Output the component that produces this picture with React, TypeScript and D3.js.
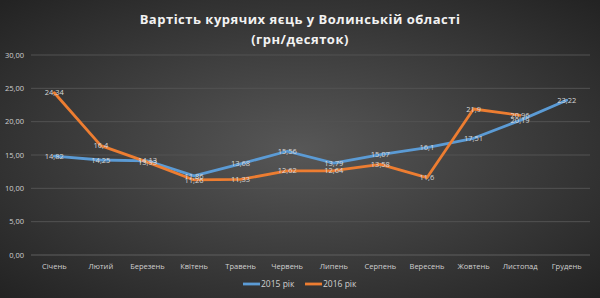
import React from "react";
import * as d3 from "d3";

const months = ["Січень","Лютий","Березень","Квітень","Травень","Червень","Липень","Серпень","Вересень","Жовтень","Листопад","Грудень"];
const values2015: (number | null)[] = [14.82,14.25,14.13,11.86,13.68,15.56,13.79,15.07,16.1,17.51,20.19,23.22];
const values2016: (number | null)[] = [24.34,16.4,13.93,11.26,11.33,12.62,12.64,13.58,11.6,21.9,20.96,null];
const yTicks = [0,5,10,15,20,25,30];
const seriesNames = ["2015 рік","2016 рік"];
const colors = ["#5b9bd5","#ed7d31"];

const W = 600, H = 298;
const M = { left: 31, right: 10, top: 55, bottom: 43 };

export default function App() {
  const x = d3.scaleBand<string>().domain(months).range([M.left, W - M.right]);
  const y = d3.scaleLinear().domain([0, 30]).range([H - M.bottom, M.top]);
  const fmt = (v: number) => v.toFixed(2).replace(".", ",");
  const lab = (v: number) => String(v).replace(".", ",");
  const series = [values2015, values2016];
  const line = d3.line<[number, number | null]>()
    .defined(d => d[1] != null)
    .x(d => (x(months[d[0]]) as number) + x.bandwidth() / 2)
    .y(d => y(d[1] as number));
  const font = "'Open Sans', 'Noto Sans', sans-serif";
  return (
    <svg width={W} height={H} style={{ position: "absolute", left: 0, top: 0 }}>
      <defs>
        <radialGradient id="bg" cx="50%" cy="50%" r="70%">
          <stop offset="0%" stopColor="#575757" />
          <stop offset="100%" stopColor="#232323" />
        </radialGradient>
      </defs>
      <rect x={0} y={0} width={W} height={H} fill="url(#bg)" />
      <text x={W / 2} y={24} textAnchor="middle" fill="#f2f2f2" fontFamily={font} fontWeight="bold" fontSize={13} letterSpacing={0.5}>Вартість  курячих  яєць  у  Волинській  області</text>
      <text x={W / 2} y={44} textAnchor="middle" fill="#f2f2f2" fontFamily={font} fontWeight="bold" fontSize={13} letterSpacing={0.5}>(грн/десяток)</text>
      {yTicks.map(t => (
        <g key={t}>
          <line x1={M.left} x2={W - M.right} y1={y(t)} y2={y(t)} stroke={t === 0 ? "#5e5e5e" : "#525252"} strokeWidth={1} />
          <text x={24} y={y(t)} dy="0.35em" textAnchor="end" fill="#d0d0d0" fontFamily={font} fontSize={7.5}>{fmt(t)}</text>
        </g>
      ))}
      {months.map(m => (
        <text key={m} x={(x(m) as number) + x.bandwidth() / 2} y={H - M.bottom + 14} textAnchor="middle" fill="#d0d0d0" fontFamily={font} fontSize={7.5}>{m}</text>
      ))}
      {series.map((s, i) => (
        <path key={i} d={line(s.map((v, j) => [j, v] as [number, number | null])) || ""} fill="none" stroke={colors[i]} strokeWidth={2.8} strokeLinejoin="round" strokeLinecap="round" />
      ))}
      {series.map((s, i) => s.map((v, j) => v == null ? null : (
        <text key={i + "-" + j} x={(x(months[j]) as number) + x.bandwidth() / 2} y={y(v)} dy="0.35em" textAnchor="middle" fill="#d9d9d9" fontFamily={font} fontSize={7.5}>{lab(v)}</text>
      )))}
      {seriesNames.map((n, i) => {
        const lx = 243 + i * 62;
        return (
          <g key={n}>
            <line x1={lx} x2={lx + 17} y1={284} y2={284} stroke={colors[i]} strokeWidth={2.8} />
            <text x={lx + 18} y={284} dy="0.35em" fill="#d0d0d0" fontFamily={font} fontSize={8.5}>{n}</text>
          </g>
        );
      })}
    </svg>
  );
}
